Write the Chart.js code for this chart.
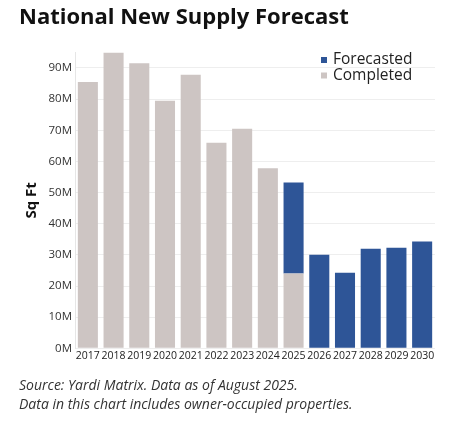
<!DOCTYPE html>
<html>
<head>
<meta charset="utf-8">
<title>National New Supply Forecast</title>
<script src="https://cdn.jsdelivr.net/npm/chart.js@4.4.1/dist/chart.umd.min.js"></script>
<style>
    html, body { margin: 0; padding: 0; background: #fff; }
    #wrap { width: 449px; height: 421px; }
</style>
</head>
<body>
<div id="wrap"><canvas id="supplyChart" width="449" height="421"></canvas></div>
<script>
// --- Data (millions of sq ft) ---
const years = ['2017', '2018', '2019', '2020', '2021', '2022', '2023', '2024', '2025', '2026', '2027', '2028', '2029', '2030'];
const completed = [85.5, 95, 91.5, 79.5, 87.8, 66, 70.5, 57.8, 24, null, null, null, null, null];
const forecasted = [null, null, null, null, null, null, null, null, 29.2, 30, 24.3, 32, 32.3, 34.3];
const yTicks = [0, 10, 20, 30, 40, 50, 60, 70, 80, 90];

const FONT = '"Open Sans", Lato, sans-serif';

// small stacked legend drawn inside the plot, top right
const cornerLegend = {
    id: 'cornerLegend',
    afterDraw(chart) {
        const ctx = chart.ctx;
        const x = chart.chartArea.right - 114;
        let y = 60;
        ctx.save();
        ctx.font = '15.5px ' + FONT;
        ctx.textBaseline = 'middle';
        // forecasted first, completed second
        chart.data.datasets.slice().reverse().forEach((ds) => {
            ctx.fillStyle = ds.backgroundColor;
            ctx.fillRect(x, y - 3, 6, 6);
            ctx.fillStyle = '#222';
            ctx.fillText(ds.label, x + 12, y);
            y += 15.5;
        });
        ctx.restore();
    }
};

const ctx = document.getElementById('supplyChart').getContext('2d');
const supplyChart = new Chart(ctx, {
    type: 'bar',
    data: {
        labels: years,
        datasets: [
            {
                label: 'Completed',
                data: completed,
                backgroundColor: '#cdc5c3',
                barPercentage: 0.78,
                categoryPercentage: 1
            },
            {
                label: 'Forecasted',
                data: forecasted,
                backgroundColor: '#2e5597',
                barPercentage: 0.78,
                categoryPercentage: 1
            }
        ]
    },
    options: {
        responsive: false,
        animation: false,
        layout: {
            padding: { left: 19, right: 14, top: 0, bottom: 6 }
        },
        plugins: {
            legend: { display: false },
            tooltip: { enabled: false },
            title: {
                display: true,
                text: 'National New Supply Forecast',
                align: 'start',
                color: '#111',
                font: { family: FONT, size: 22, weight: 'bold', lineHeight: 1.2 },
                padding: { top: 5, bottom: 21 }
            },
            subtitle: {
                display: true,
                position: 'bottom',
                align: 'start',
                text: ['Source: Yardi Matrix. Data as of August 2025.', 'Data in this chart includes owner-occupied properties.'],
                color: '#333',
                font: { family: FONT, size: 14, style: 'italic', lineHeight: 1.36 },
                padding: { top: 14, bottom: 0 }
            }
        },
        scales: {
            x: {
                stacked: true,
                grid: { display: false, drawTicks: false },
                border: { display: false },
                ticks: {
                    color: '#222',
                    font: { family: FONT, size: 10.5 },
                    padding: 1,
                    maxRotation: 0,
                    autoSkip: false
                }
            },
            y: {
                stacked: true,
                min: 0,
                max: 95,
                afterBuildTicks: (scale) => {
                    scale.ticks = yTicks.map(v => ({ value: v }));
                },
                afterFit: (scale) => {
                    scale.width = 56;
                },
                grid: { color: '#eeeeee', drawTicks: false },
                border: { display: true, color: '#e6e6e6' },
                ticks: {
                    color: '#333',
                    font: { family: FONT, size: 11.5 },
                    padding: 3,
                    callback: (v) => v + 'M'
                },
                title: {
                    display: true,
                    text: 'Sq Ft',
                    color: '#111',
                    font: { family: FONT, size: 15, weight: 'bold' },
                    padding: { top: 4, bottom: 0 }
                }
            }
        }
    },
    plugins: [cornerLegend]
});
</script>
</body>
</html>
